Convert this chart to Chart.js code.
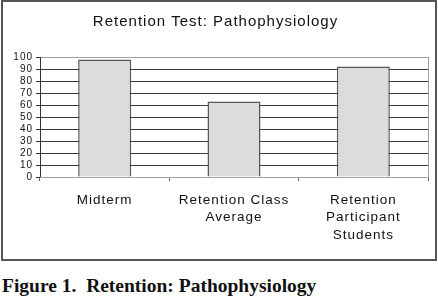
<!DOCTYPE html>
<html>
<head>
<meta charset="utf-8">
<script src="https://cdn.jsdelivr.net/npm/chart.js@4"></script>
<style>
    body { margin: 0; background: #fff; width: 438px; height: 300px; position: relative; overflow: hidden; }
    #frame {
        position: absolute; left: 1px; top: 0; width: 436px; height: 261px;
        border: 2px solid #555; box-sizing: border-box;
    }
    #frame canvas { display: block; }
    #caption {
        position: absolute; left: 2px; top: 275px;
        font: bold 19.5px "Liberation Serif", serif; color: #111; white-space: pre;
    }
</style>
</head>
<body>
<div id="frame"><canvas id="chart" width="432" height="257"></canvas></div>
<div id="caption">Figure 1.  Retention: Pathophysiology</div>
<script>
const categories = [['Midterm'], ['Retention Class', 'Average'], ['Retention', 'Participant', 'Students']];
const scores = [98, 63, 92];
const yMin = 0;
const yMax = 100;
const yStep = 10;

// Excel-ish wide text: set letter spacing on the context (reset whenever the canvas resizes)
const spacing = {
    id: 'spacing',
    beforeUpdate(chart) { chart.ctx.letterSpacing = '1px'; },
    beforeDraw(chart) { chart.ctx.letterSpacing = '1px'; }
};

new Chart(document.getElementById('chart'), {
    type: 'bar',
    data: {
        labels: categories,
        datasets: [{
            data: scores,
            backgroundColor: '#dcdcdc',
            borderColor: '#555',
            borderWidth: 1.5,
            categoryPercentage: 1,
            barPercentage: 0.41
        }]
    },
    options: {
        responsive: false,
        animation: false,
        layout: { padding: { left: 0, right: 7, top: 0, bottom: 0 } },
        plugins: {
            legend: { display: false },
            tooltip: { enabled: false },
            title: {
                display: true,
                text: 'Retention Test: Pathophysiology',
                color: '#111',
                font: { family: 'Arial, "Liberation Sans"', size: 15, weight: 'normal', lineHeight: 1.2 },
                padding: { top: 11, bottom: 26 }
            }
        },
        scales: {
            y: {
                min: yMin,
                max: yMax,
                afterFit(scale) { scale.width = 37; },
                ticks: {
                    stepSize: yStep,
                    autoSkip: false,
                    color: '#111',
                    padding: 3,
                    font: { family: 'Arial, "Liberation Sans"', size: 10 }
                },
                grid: {
                    color: ctx => ctx.tick && ctx.tick.value === yMax ? '#a0a0a0' : '#3a3a3a',
                    tickColor: '#333',
                    tickLength: 4,
                    lineWidth: 1
                },
                border: { color: '#333', width: 1 }
            },
            x: {
                afterFit(scale) { scale.height = 82; },
                ticks: {
                    color: '#111',
                    padding: 10,
                    maxRotation: 0,
                    autoSkip: false,
                    font: { family: 'Arial, "Liberation Sans"', size: 13.5, lineHeight: 1.32 }
                },
                grid: {
                    offset: true,
                    color: ctx => ctx.tick ? 'rgba(0,0,0,0)' : '#a0a0a0',
                    tickColor: '#666',
                    tickLength: 4
                },
                border: { color: '#a0a0a0', width: 1 }
            }
        }
    },
    plugins: [spacing]
});
</script>
</body>
</html>
